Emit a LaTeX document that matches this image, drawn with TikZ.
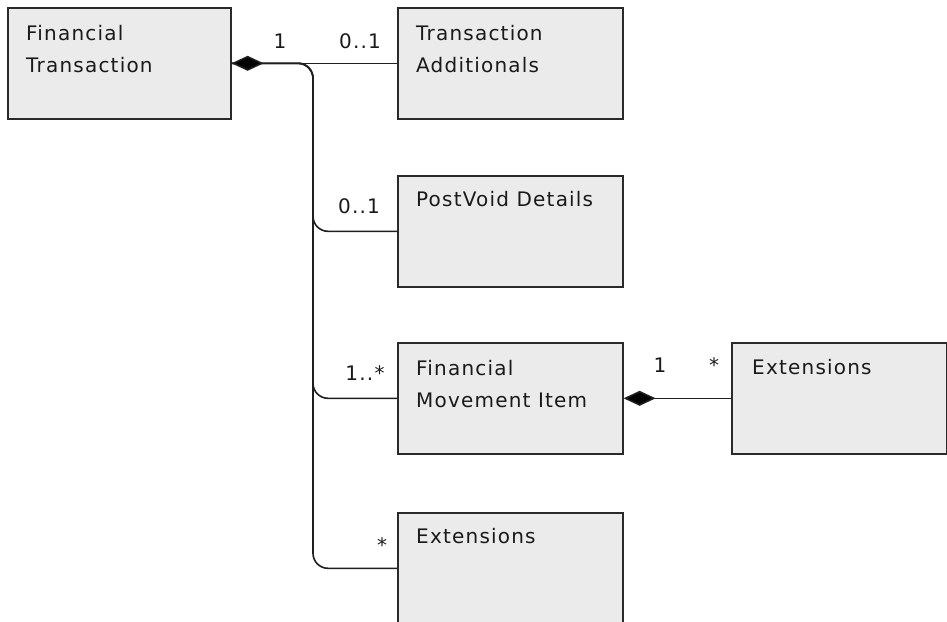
\documentclass[tikz,border=0pt]{standalone}
\usepackage{fontspec}
\setmainfont{DejaVu Sans}[LetterSpace=6]
\usetikzlibrary{arrows.meta,calc}
\definecolor{boxfill}{HTML}{EBEBEB}
\definecolor{boxline}{HTML}{2A2A2A}
\definecolor{txt}{HTML}{1A1A1A}
\begin{document}
\begin{tikzpicture}[x=1pt,y=-1pt,
  umlbox/.style={draw=boxline,fill=boxfill,line width=1.6pt,rectangle,anchor=north west,inner sep=0pt,minimum height=111pt},
  boxtext/.style={anchor=base west,inner sep=0pt,align=left,text=txt,font=\fontsize{20}{32}\selectfont},
  mult/.style={anchor=base,inner sep=0pt,text=txt,font=\fontsize{20}{24}\selectfont},
  conn/.style={line width=1.6pt,draw=black!88},
  busline/.style={conn,rounded corners=15pt},
  comp/.style={conn,{Diamond[length=32pt,width=15pt,fill=black]}-}]
\useasboundingbox (0,0) rectangle (947,621);
\node[umlbox,minimum width=223pt] (ft) at (7,7) {};
\node[umlbox,minimum width=225pt] (ta) at (397,7) {};
\node[umlbox,minimum width=225pt] (pv) at (397,175) {};
\node[umlbox,minimum width=225pt] (fm) at (397,342) {};
\node[umlbox,minimum width=215pt] (ex2) at (731,342) {};
\node[umlbox,minimum width=225pt] (ex1) at (397,512) {};
% two-line texts: base anchor is on the last line
\node[boxtext] (ftT) at ($(ft.north west)+(19,65)$) {Financial\\Transaction};
\node[boxtext] (taT) at ($(ta.north west)+(19,65)$) {Transaction\\Additionals};
\node[boxtext] (pvT) at ($(pv.north west)+(19,31)$) {PostVoid Details};
\node[boxtext] (fmT) at ($(fm.north west)+(19,65)$) {Financial\\Movement Item};
\node[boxtext] (ex2T) at ($(ex2.north west)+(21,32)$) {Extensions};
\node[boxtext] (ex1T) at ($(ex1.north west)+(19,31)$) {Extensions};
\coordinate (bus) at (313,0);
\draw[busline] (ft.east) -| (bus |- pv.west) -- (pv.west);
\draw[busline] (ft.east) -| (bus |- fm.west) -- (fm.west);
\draw[busline] (ft.east) -| (bus |- ex1.west) -- (ex1.west);
\draw[comp] (ft.east) -- (ta.west);
\draw[comp] (fm.east) -- (ex2.west);
\node[mult] (m1) at (280,48) {1};
\node[mult] (m2) at (360,48) {0..1};
\node[mult] (m3) at (359,213) {0..1};
\node[mult] (m4) at (365,380) {1..*};
\node[mult] (m5) at (660,372) {1};
\node[mult] (m6) at (714,372) {*};
\node[mult] (m7) at (382,552) {*};
\end{tikzpicture}
\end{document}
